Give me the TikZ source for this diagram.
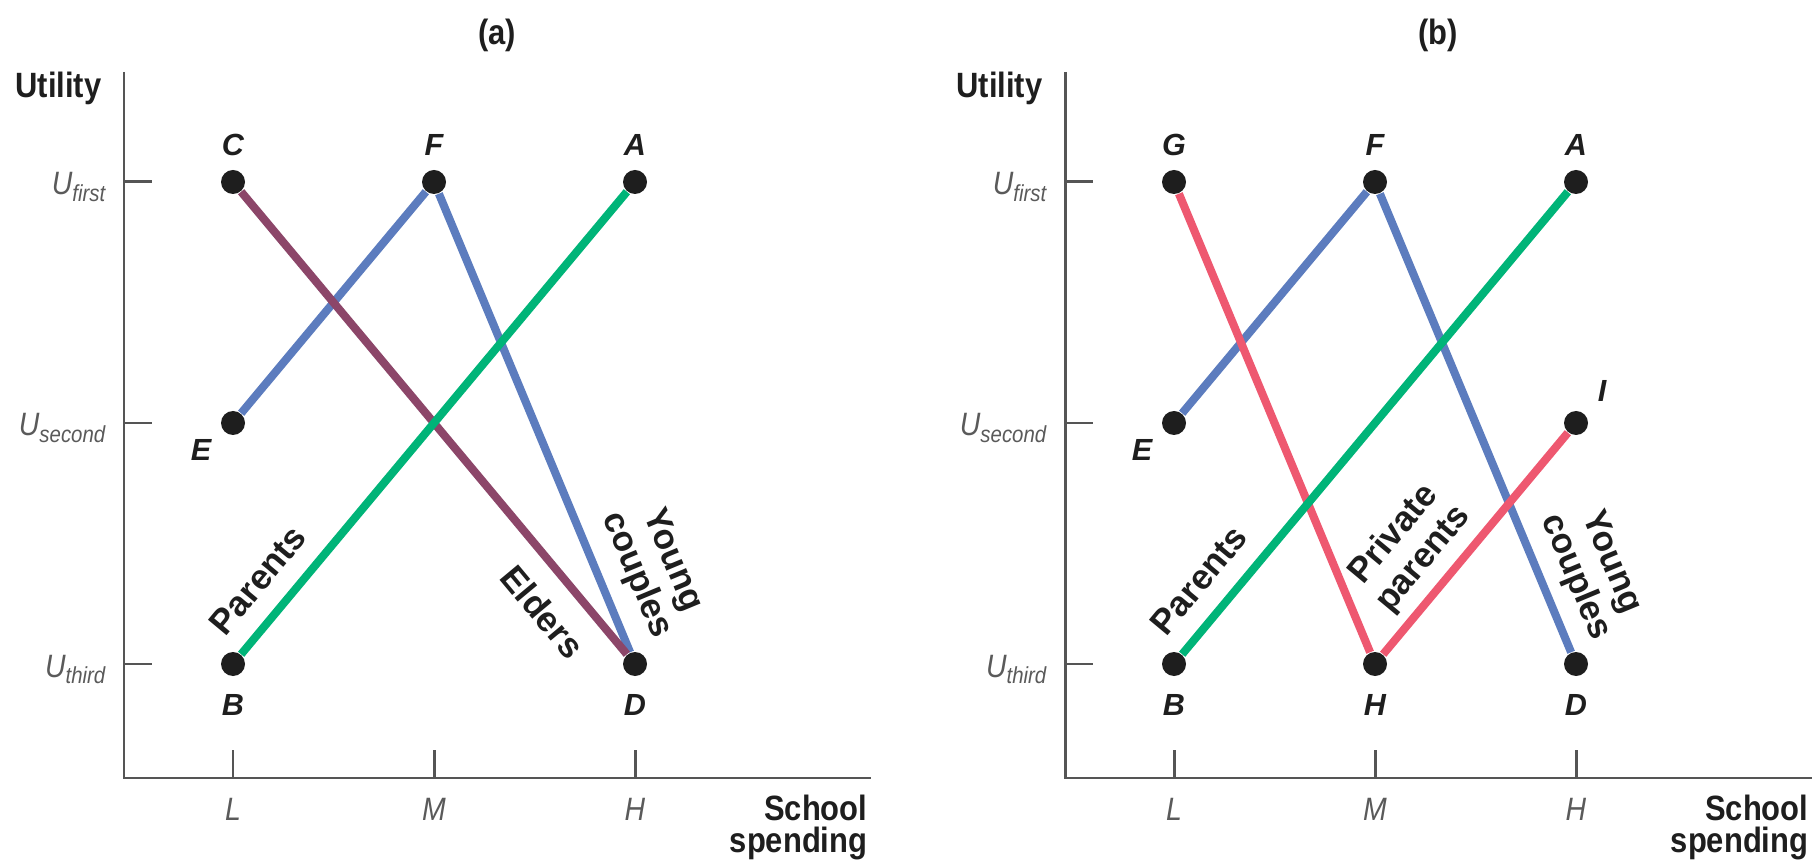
\documentclass[tikz,border=0pt]{standalone}
\usepackage{fontspec}
\setmainfont{Liberation Sans}
\newfontfamily\condfont{Liberation Sans}[FakeStretch=0.88]
\usetikzlibrary{positioning}
\definecolor{ElderPlum}{RGB}{140,70,105}
\definecolor{YoungBlue}{RGB}{92,124,190}
\definecolor{ParentGreen}{RGB}{0,180,120}
\definecolor{PrivRed}{RGB}{238,88,112}
\definecolor{AxisGray}{RGB}{85,85,85}
\definecolor{TickText}{RGB}{90,90,90}
\definecolor{InkBlack}{RGB}{30,30,30}
\tikzset{dot/.style={circle,fill=InkBlack,inner sep=0pt,minimum size=2.4mm}, ptlab/.style={font=\fontsize{8.7}{9}\selectfont\bfseries\itshape,text=InkBlack,inner sep=1pt}, axis/.style={draw=AxisGray,line width=0.85pt}, curve/.style={line width=2.3pt}, ticklab/.style={font=\condfont\fontsize{9.2}{10}\selectfont\itshape,text=TickText,inner sep=0pt}, axlab/.style={font=\condfont\fontsize{10}{9.1}\selectfont\bfseries,text=InkBlack,inner sep=0pt,align=right}, grouplab/.style={font=\fontsize{10}{11}\selectfont\bfseries,text=InkBlack,align=center,inner sep=0pt}}
\newcommand{\ulev}[1]{U{\fontsize{6.6}{7}\selectfont\raisebox{-0.55ex}{#1}}}

\begin{document}
\begin{tikzpicture}[x=0.1mm,y=-0.1mm]
\useasboundingbox (0,0) rectangle (1815,866);
% panel (a)
\node[axlab,anchor=base] (aTitle) at (497,45) {(a)};
\coordinate (aTop) at (124,72);
\coordinate (aO) at (124,778);
\coordinate (aEnd) at (871,778);
\draw[axis] (aTop) -- (aO) -- (aEnd);
\draw[axis] (124,182) -- (152,182);
\draw[axis] (124,423) -- (152,423);
\draw[axis] (124,664) -- (152,664);
\draw[axis] (233,750) -- (233,778);
\draw[axis] (434,750) -- (434,778);
\draw[axis] (635,750) -- (635,778);
\node[axlab,anchor=base east] (aUtil) at (102,98) {Utility};
\node[axlab,anchor=base east] (aSpend) at (868,852) {School\\spending};
\node[ticklab,anchor=base east] (aU1) at (106,195) {\ulev{first}};
\node[ticklab,anchor=base east] (aU2) at (106,436) {\ulev{second}};
\node[ticklab,anchor=base east] (aU3) at (106,677) {\ulev{third}};
\node[ticklab,anchor=base] (aL) at (233,820) {L};
\node[ticklab,anchor=base] (aM) at (434,820) {M};
\node[ticklab,anchor=base] (aH) at (635,820) {H};
\node[dot,label={[ptlab,label distance=2.7pt]above:C}] (aC) at (233,182) {};
\node[dot,label={[ptlab,label distance=2.7pt]above:F}] (aF) at (434,182) {};
\node[dot,label={[ptlab,label distance=2.7pt]above:A}] (aA) at (635,182) {};
\node[dot,label={[ptlab,label distance=2.5pt]215:E}] (aE) at (233,423) {};
\node[dot,label={[ptlab,label distance=3.8pt]below:B}] (aB) at (233,664) {};
\node[dot,label={[ptlab,label distance=3.8pt]below:D}] (aD) at (635,664) {};
\draw[curve,YoungBlue] (aE) -- (aF);
\draw[curve,YoungBlue] (aF) -- (aD);
\draw[curve,ElderPlum] (aC) -- (aD);
\draw[curve,ParentGreen] (aB) -- (aA);
\node[grouplab,rotate=50.2] (aParents) at (258,580) {Parents};
\node[grouplab,rotate=-50.2] (aElders) at (543,612) {Elders};
\node[grouplab,rotate=-67.4] (aYoung) at (654,568) {Young\\couples};
% panel (b)
\begin{scope}[xshift=9.41cm]
\node[axlab,anchor=base] (bTitle) at (497,45) {(b)};
\coordinate (bTop) at (124,72);
\coordinate (bO) at (124,778);
\coordinate (bEnd) at (871,778);
\draw[axis] (bTop) -- (bO) -- (bEnd);
\draw[axis] (124,182) -- (152,182);
\draw[axis] (124,423) -- (152,423);
\draw[axis] (124,664) -- (152,664);
\draw[axis] (233,750) -- (233,778);
\draw[axis] (434,750) -- (434,778);
\draw[axis] (635,750) -- (635,778);
\node[axlab,anchor=base east] (bUtil) at (102,98) {Utility};
\node[axlab,anchor=base east] (bSpend) at (868,852) {School\\spending};
\node[ticklab,anchor=base east] (bU1) at (106,195) {\ulev{first}};
\node[ticklab,anchor=base east] (bU2) at (106,436) {\ulev{second}};
\node[ticklab,anchor=base east] (bU3) at (106,677) {\ulev{third}};
\node[ticklab,anchor=base] (bL) at (233,820) {L};
\node[ticklab,anchor=base] (bM) at (434,820) {M};
\node[ticklab,anchor=base] (bHi) at (635,820) {H};
\node[dot,label={[ptlab,label distance=2.7pt]above:G}] (bG) at (233,182) {};
\node[dot,label={[ptlab,label distance=2.7pt]above:F}] (bF) at (434,182) {};
\node[dot,label={[ptlab,label distance=2.7pt]above:A}] (bA) at (635,182) {};
\node[dot,label={[ptlab,label distance=2.5pt]215:E}] (bE) at (233,423) {};
\node[dot,label={[ptlab,label distance=3.5pt]45:I}] (bI) at (635,423) {};
\node[dot,label={[ptlab,label distance=3.8pt]below:B}] (bB) at (233,664) {};
\node[dot,label={[ptlab,label distance=3.8pt]below:H}] (bH) at (434,664) {};
\node[dot,label={[ptlab,label distance=3.8pt]below:D}] (bD) at (635,664) {};
\draw[curve,YoungBlue] (bE) -- (bF);
\draw[curve,YoungBlue] (bF) -- (bD);
\draw[curve,PrivRed] (bG) -- (bH);
\draw[curve,PrivRed] (bH) -- (bI);
\draw[curve,ParentGreen] (bB) -- (bA);
\node[grouplab,rotate=50.2] (bParents) at (258,580) {Parents};
\node[grouplab,rotate=50.2] (bPrivate) at (468,547) {Private\\parents};
\node[grouplab,rotate=-67.4] (bYoung) at (652,570) {Young\\couples};
\end{scope}
\end{tikzpicture}
\end{document}
